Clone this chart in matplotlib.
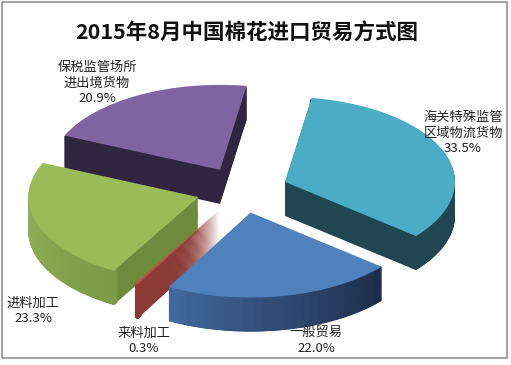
import numpy as np
import matplotlib
matplotlib.use('Agg')
import matplotlib.pyplot as plt
from matplotlib.patches import Rectangle, Wedge
from matplotlib.colors import to_rgb

plt.rcParams['font.family'] = ['Noto Sans CJK SC', 'DejaVu Sans']

# ---- data ----
title = '2015年8月中国棉花进口贸易方式图'
categories = ['海关特殊监管\n区域物流货物', '一般贸易', '来料加工', '进料加工', '保税监管场所\n进出境货物']
shares = [33.5, 22.0, 0.3, 23.3, 20.9]

# ---- styles ----
top_colors = ['#4BACC6', '#4F81BD', '#C0504D', '#9BBB59', '#8064A2']
cut_colors = ['#1F4651', '#2F4B75', '#8B3A36', '#6E8A3D', '#302641']
# rim shading: (colour at theta1, colour at theta2)
rim_colors = [('#1F4651', '#1F4651'), ('#41699E', '#1D2C48'), ('#8B3A36', '#8B3A36'),
              ('#99B95C', '#7C9A47'), ('#302641', '#302641')]
draw_rank = [1, 4, 3, 2, 0]          # painter order (back -> front)
label_px = [(463, 133), (316, 341), (144, 341), (33, 311), (97, 83)]

W, H = 511, 365
fig = plt.figure(figsize=(W / 100, H / 100), dpi=100)
ax = fig.add_axes([0, 0, 1, 1])

start = 81
explode = [0.27] * len(shares)
depth = 0.4
nlayers = 36
nsub = 24

def place(wedges, colors, zbase):
    for i, w in enumerate(wedges):
        w.set_facecolor(colors[i])
        w.set_zorder(draw_rank[i] * 1000 + zbase)

for l in range(nlayers):
    dy = -depth + depth * l / nlayers
    wd, _ = ax.pie(shares, explode=explode, startangle=start, counterclock=False,
                   center=(0, dy), wedgeprops=dict(linewidth=0))
    place(wd, cut_colors, l)

for l in range(nlayers):
    dy = -depth + depth * l / nlayers
    wd, _ = ax.pie(shares, explode=explode, startangle=start, counterclock=False,
                   center=(0, dy), wedgeprops=dict(linewidth=0, width=0.04))
    for i, w in enumerate(wd):
        w.set_visible(False)
        ca, cb = np.array(to_rgb(rim_colors[i][0])), np.array(to_rgb(rim_colors[i][1]))
        edges = np.linspace(w.theta1, w.theta2, nsub + 1)
        for j in range(nsub):
            f = (j + 0.5) / nsub
            sub = Wedge(w.center, w.r, edges[j], edges[j + 1] + 0.3, width=w.width,
                        facecolor=tuple(ca * (1 - f) + cb * f), linewidth=0,
                        zorder=draw_rank[i] * 1000 + 100 + l)
            ax.add_patch(sub)

wd, _ = ax.pie(shares, explode=explode, startangle=start, counterclock=False,
               center=(0, 0), wedgeprops=dict(linewidth=0))
place(wd, top_colors, 500)

ax.set_aspect('auto')
ax.set_xlim(-242 / 170, (W - 242) / 170)
ax.set_ylim((190 - H) / 85, 190 / 85)
ax.axis('off')

fig.text(246.5 / W, 1 - 33 / H, title, ha='center', va='center',
         fontsize=15.5, fontweight='bold', color='#111111')

for name, v, (px, py) in zip(categories, shares, label_px):
    fig.text(px / W, 1 - py / H, f'{name}\n{v:.1f}%', ha='center', va='center',
             fontsize=9.5, color='#222222', linespacing=1.25)

fig.patches.append(Rectangle((2 / W, 1 - 358 / H), 505 / W, 356 / H,
                             transform=fig.transFigure, fill=False,
                             edgecolor='#9a9a9a', linewidth=1.3))

fig.savefig('out.png', dpi=100)
